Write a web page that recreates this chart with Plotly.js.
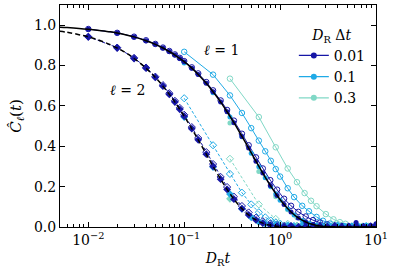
<!DOCTYPE html>
<html>
<head>
<meta charset="utf-8">
<script src="https://cdn.plot.ly/plotly-3.0.1.min.js"></script>
<style>html,body{margin:0;padding:0;background:#fff;}#chart{width:394px;height:276px;}</style>
</head>
<body>
<div id="chart"></div>
<script>
// ---- theory curves ----
const tTheory = [0.005,0.006,0.008,0.01,0.013,0.017,0.02,0.025,0.03,0.04,0.05,0.06,0.07,0.08,0.1,0.12,0.14,0.17,0.2,0.24,0.28,0.33,0.4,0.47,0.56,0.66,0.79,0.93,1.1,1.3,1.55,1.85,2.2,2.6,3.1,3.7,4.4,5.2,6.2,7.4,8.8,10];
const c1Theory = [0.990,0.988,0.984,0.980,0.974,0.967,0.961,0.951,0.942,0.923,0.905,0.887,0.869,0.852,0.819,0.787,0.756,0.712,0.670,0.619,0.571,0.517,0.449,0.391,0.326,0.267,0.206,0.156,0.111,0.074,0.045,0.025,0.0123,0.0055,0.0020,0.0006,0.0002,0.00003,0,0,0,0];
const c2Theory = [0.970,0.965,0.953,0.942,0.925,0.903,0.887,0.861,0.835,0.787,0.741,0.698,0.657,0.619,0.549,0.487,0.432,0.361,0.301,0.237,0.186,0.138,0.091,0.060,0.035,0.019,0.0087,0.0038,0.0014,0.0004,0.0001,0,0,0,0,0,0,0,0,0,0,0];

// ---- D_R Δt = 0.01 ----
const t001 = [0.01,0.02,0.03,0.04,0.05,0.06,0.07,0.08,0.09,0.10,0.12,0.14,0.17,0.20,0.24,0.28,0.33,0.40,0.47,0.56,0.66,0.79,0.93,1.10,1.30,1.55,1.85,2.20,2.60,3.10,3.70,4.40,5.20,6.20,7.40,8.80,10.0];
const c1Filled001 = [0.980,0.961,0.942,0.923,0.905,0.887,0.869,0.852,0.835,0.819,0.787,0.756,0.712,0.670,0.619,0.571,0.517,0.449,0.391,0.326,0.267,0.206,0.156,0.111,0.074,0.045,0.025,0.012,0.006,0.002,0.004,0.001,0.003,0.022,0.004,0.008,0.016];
const c2Filled001 = [0.942,0.887,0.835,0.787,0.741,0.698,0.657,0.619,0.583,0.549,0.487,0.432,0.361,0.301,0.237,0.186,0.138,0.091,0.060,0.035,0.019,0.009,0.004,0.002,0.006,0.001,0.003,0.000,0.004,0.002,0.005,0.001,0.003,0.006,0.002,0.004,0.008];
const c1Open001 = [0.981,0.962,0.943,0.925,0.907,0.889,0.872,0.855,0.838,0.822,0.791,0.761,0.718,0.677,0.627,0.580,0.527,0.462,0.405,0.345,0.290,0.232,0.185,0.140,0.105,0.075,0.052,0.034,0.022,0.013,0.008,0.005,0.003,0.002,0.001,0.001,0.001];
const c2Open001 = [0.943,0.889,0.838,0.790,0.745,0.703,0.663,0.625,0.590,0.556,0.495,0.441,0.371,0.312,0.248,0.198,0.150,0.104,0.072,0.046,0.029,0.017,0.010,0.005,0.003,0.002,0.001,0.001,0.001,0,0,0,0,0,0,0,0];

// ---- D_R Δt = 0.1 ----
const t01 = [0.1,0.2,0.3,0.4,0.5,0.6,0.7,0.8,0.9,1.0,1.2,1.4,1.7,2.0,2.4,2.8,3.3,4.0,4.7,5.6,6.6,7.9,10.0];
const c1Filled01 = [0.812,0.665,0.545,0.447,0.366,0.298,0.244,0.200,0.163,0.133,0.089,0.060,0.032,0.018,0.008,0.004,0.010,0.002,0.006,0.001,0.004,0.008,0.012];
const c2Filled01 = [0.545,0.297,0.163,0.090,0.048,0.026,0.016,0.008,0.012,0.004,0.006,0.002,0.009,0.001,0.005,0.003,0.000,0.006,0.002,0.004,0.001,0.005,0.007];
const c1Open01 = [0.868,0.755,0.652,0.565,0.490,0.428,0.375,0.328,0.287,0.250,0.192,0.148,0.105,0.078,0.050,0.031,0.017,0.008,0.004,0.002,0.001,0.001,0.001];
const c2Open01 = [0.638,0.405,0.263,0.170,0.112,0.073,0.048,0.032,0.022,0.015,0.008,0.005,0.003,0.002,0.001,0.001,0,0,0,0,0,0,0];

// ---- D_R Δt = 0.3 ----
const t03 = [0.3,0.6,0.9,1.2,1.5,1.8,2.1,2.4,3.0,3.6,4.2,4.8,6.0,7.2,8.4,9.9];
const c1Filled03 = [0.515,0.275,0.150,0.085,0.046,0.026,0.013,0.008,0.003,0.006,0.002,0.004,0.001,0.005,0.002,0.006];
const c2Filled03 = [0.140,0.025,0.008,0.003,0.006,0.002,0.004,0.001,0.003,0.005,0.001,0.002,0.004,0.001,0.003,0.002];
const c1Open03 = [0.735,0.545,0.395,0.290,0.222,0.168,0.130,0.103,0.064,0.038,0.024,0.016,0.008,0.005,0.003,0.002];
const c2Open03 = [0.338,0.112,0.040,0.016,0.007,0.004,0.002,0.001,0.001,0,0,0,0,0,0,0];

const legendLabels = ['0.01','0.1','0.3'];
const xTickVals = [0.01,0.1,1,10];
const xTickText = ['10<sup>−2</sup>','10<sup>−1</sup>','10<sup>0</sup>','10<sup>1</sup>'];
const xMinorVals = [0.006,0.007,0.008,0.009,0.02,0.03,0.04,0.05,0.06,0.07,0.08,0.09,0.2,0.3,0.4,0.5,0.6,0.7,0.8,0.9,2,3,4,5,6,7,8,9];

const colors = ['#1616a6','#20aae6','#80d8c6'];
const sets = [
  {t:t03, f1:c1Filled03, f2:c2Filled03, o1:c1Open03, o2:c2Open03, c:colors[2]},
  {t:t01, f1:c1Filled01, f2:c2Filled01, o1:c1Open01, o2:c2Open01, c:colors[1]},
  {t:t001, f1:c1Filled001, f2:c2Filled001, o1:c1Open001, o2:c2Open001, c:colors[0]}
];

const traces = [];
legendLabels.forEach((lab,i)=>{
  traces.push({x:[null],y:[null],type:'scatter',mode:'lines+markers',name:lab,
    line:{color:colors[i],width:1.2},marker:{color:colors[i],size:6,symbol:'circle'},showlegend:true});
});
sets.forEach(s=>{
  traces.push({x:s.t,y:s.o1,type:'scatter',mode:'lines+markers',showlegend:false,
    line:{color:s.c,width:1},marker:{symbol:'circle-open',size:5.5,color:s.c,line:{width:1,color:s.c}}});
  traces.push({x:s.t,y:s.o2,type:'scatter',mode:'lines+markers',showlegend:false,
    line:{color:s.c,width:1,dash:'3px,2px'},marker:{symbol:'diamond-open',size:5.5,color:s.c,line:{width:1,color:s.c}}});
});
sets.forEach(s=>{
  traces.push({x:s.t,y:s.f1,type:'scatter',mode:'markers',showlegend:false,
    marker:{symbol:'circle',size:5,color:s.c}});
  traces.push({x:s.t,y:s.f2,type:'scatter',mode:'markers',showlegend:false,
    marker:{symbol:'diamond',size:6,color:s.c}});
});
traces.push({x:tTheory,y:c1Theory,type:'scatter',mode:'lines',showlegend:false,
  line:{color:'#000',width:1.5,shape:'spline'}});
traces.push({x:tTheory,y:c2Theory,type:'scatter',mode:'lines',showlegend:false,
  line:{color:'#000',width:1.5,dash:'5px,3px',shape:'spline'}});

const fam = 'DejaVu Serif';
const fs = 14;
const font = {family:fam, size:fs, color:'#000'};
const layout = {
  width:394, height:276,
  margin:{l:60,r:18,t:5,b:49},
  paper_bgcolor:'#fff', plot_bgcolor:'#fff',
  font:font,
  showlegend:true,
  legend:{x:0.74,y:0.925,xanchor:'left',yanchor:'top',bgcolor:'rgba(0,0,0,0)',
    font:{family:fam,size:14,color:'#000'},
    title:{text:'<i>D</i><sub>R</sub> Δ<i>t</i>',side:'top center',font:{family:fam,size:14,color:'#000'}},
    tracegroupgap:0, itemwidth:30},
  xaxis:{type:'log',range:[-2.295,1.0],showline:true,linecolor:'#000',linewidth:1,mirror:'ticks',
    ticks:'inside',ticklen:5,tickwidth:1,tickcolor:'#000',
    tickmode:'array',tickvals:xTickVals,ticktext:xTickText,
    minor:{tickmode:'array',tickvals:xMinorVals,ticks:'inside',ticklen:3,tickwidth:1,tickcolor:'#000',showgrid:false},
    showgrid:false,zeroline:false,tickfont:{family:fam,size:fs,color:'#000'},
    title:{text:'<i>D</i><sub>R</sub><i>t</i>',font:{family:fam,size:fs,color:'#000'},standoff:6}},
  yaxis:{range:[0,1.1],showline:true,linecolor:'#000',linewidth:1,mirror:'ticks',
    ticks:'inside',ticklen:5,tickwidth:1,tickcolor:'#000',
    tickmode:'array',tickvals:[0,0.2,0.4,0.6,0.8,1.0],ticktext:['0.0','0.2','0.4','0.6','0.8','1.0'],
    showgrid:false,zeroline:false,tickfont:{family:fam,size:fs,color:'#000'},
    title:{text:'<i>Ĉ</i><sub><i>ℓ</i></sub>(<i>t</i>)',font:{family:fam,size:15,color:'#000'},standoff:8}},
  annotations:[
    {x:-0.61,y:0.875,xref:'x',yref:'y',text:'<i>ℓ</i> = 1',showarrow:false,font:{family:fam,size:fs,color:'#000'}},
    {x:-1.59,y:0.68,xref:'x',yref:'y',text:'<i>ℓ</i> = 2',showarrow:false,font:{family:fam,size:fs,color:'#000'}}
  ]
};
Plotly.newPlot('chart',traces,layout,{staticPlot:true,displayModeBar:false});
</script>
</body>
</html>
